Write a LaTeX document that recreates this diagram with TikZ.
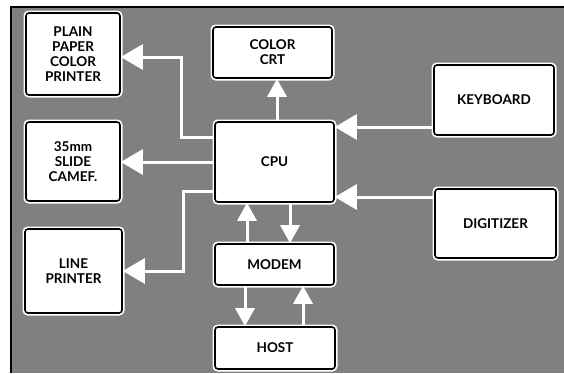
\documentclass[tikz,border=0pt]{standalone}
\usepackage{fontspec}
\setmainfont{Lato}
\usepackage{tikz}
\usetikzlibrary{arrows.meta, positioning, calc}
\definecolor{panelgray}{RGB}{128, 128, 128}

\begin{document}
\begin{tikzpicture}[x=1pt, y=-1pt,
    unit/.style={draw=black, line width=1.6pt, fill=white, rounded corners=3pt,
      preaction={draw=white, line width=5pt},
      align=center, inner sep=0pt,
      font=\bfseries\fontsize{13.5}{15}\selectfont},
    flow/.style={draw=white, line width=3pt,
      -{Triangle[length=22pt, width=25pt]}},
    flowsm/.style={draw=white, line width=3pt,
      -{Triangle[length=18pt, width=19pt]}}]
  \useasboundingbox (0,0) rectangle (564,373);

  % Panel
  \fill[panelgray] (12,8) rectangle (564,373);
  \draw[line width=2.5pt] (11,373) -- (11,7) -- (564,7);

  % ---- Units ----
  \node[unit, minimum width=94pt, minimum height=82pt] (printer) at (73,54)
    {PLAIN\\PAPER\\COLOR\\PRINTER};
  \node[unit, minimum width=119pt, minimum height=51pt] (crt) at (272.5,52.5)
    {COLOR\\CRT};
  \node[unit, minimum width=120pt, minimum height=70pt] (keyboard) at (494,100)
    {KEYBOARD};
  \node[unit, minimum width=119pt, minimum height=80pt] (cpu) at (274.5,162)
    {CPU};
  \node[unit, minimum width=94pt, minimum height=79pt] (camera) at (73,161.5)
    {35mm\\SLIDE\\CAMEF.};
  \node[unit, minimum width=121pt, minimum height=69pt] (digitizer) at (495.5,223.5)
    {DIGITIZER};
  \node[unit, minimum width=97pt, minimum height=84pt] (lineprinter) at (73.5,271)
    {LINE\\PRINTER};
  \node[unit, minimum width=119pt, minimum height=41pt] (modem) at (274.5,264.5)
    {MODEM};
  \node[unit, minimum width=120pt, minimum height=42pt] (host) at (275,348)
    {HOST};

  % ---- Outputs of the CPU ----
  \draw[flowsm] ([xshift=2.5pt]cpu.north) -- ([xshift=2.5pt]cpu.north |- crt.south);
  \draw[flow] ([yshift=25pt]cpu.west) -- ++(-33,0) |- ([yshift=-3pt]printer.east);
  \draw[flow] (cpu.west) -- (cpu.west -| camera.east);
  \draw[flow] ([yshift=-29pt]cpu.west) -- ++(-31,0) |- (lineprinter.east);

  % ---- Inputs to the CPU ----
  \coordinate (kbin) at ([yshift=35pt]cpu.east);
  \coordinate (dgin) at ([yshift=-35pt]cpu.east);
  \draw[flow] (kbin -| keyboard.west) -- (kbin);
  \draw[flow] (dgin -| digitizer.west) -- (dgin);

  % ---- Modem link ----
  \draw[flowsm] ([xshift=-27.5pt]modem.north) -- ([xshift=-27.5pt]cpu.south);
  \draw[flowsm] ([xshift=15.5pt]cpu.south) -- ([xshift=15.5pt]modem.north);
  \draw[flowsm] ([xshift=-29.5pt]modem.south) -- ([xshift=-30pt]host.north);
  \draw[flowsm] ([xshift=28pt]host.north) -- ([xshift=28.5pt]modem.south);
\end{tikzpicture}
\end{document}
